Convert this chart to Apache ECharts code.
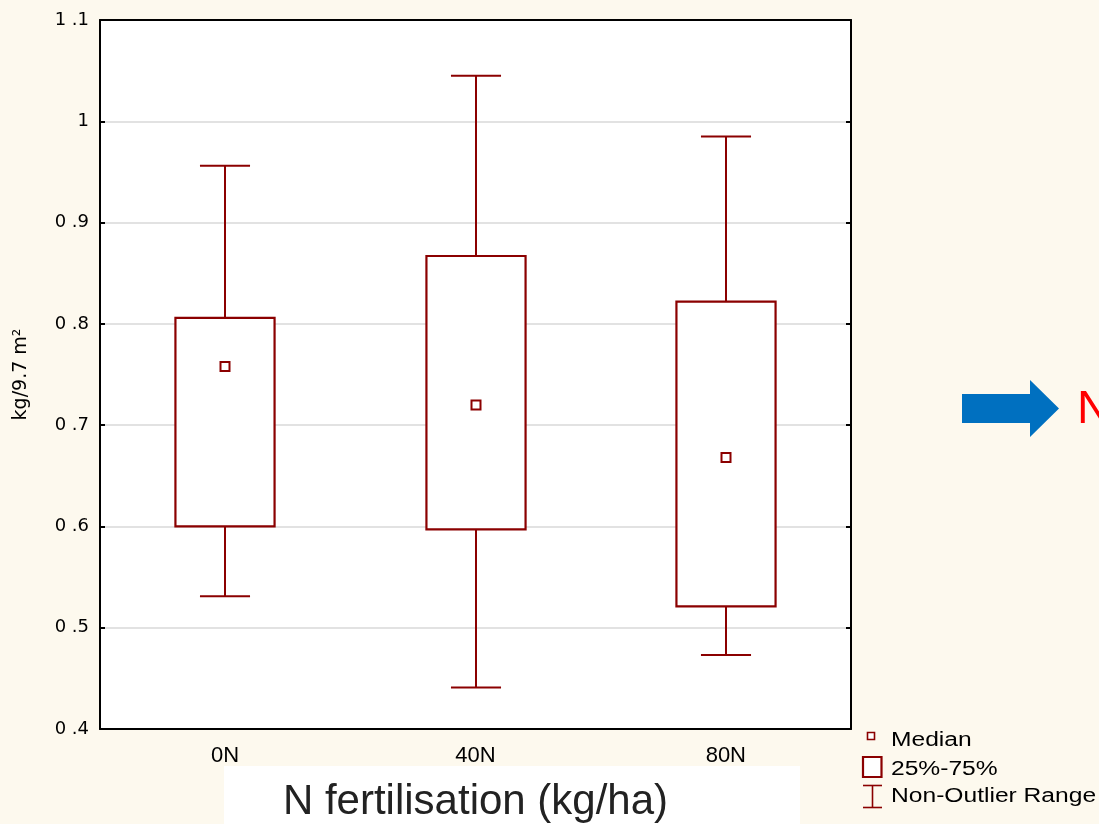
<!DOCTYPE html>
<html>
<head>
<meta charset="utf-8">
<script src="https://cdn.jsdelivr.net/npm/echarts@6/dist/echarts.min.js"></script>
<style>
html,body{margin:0;padding:0;background:#fdf9ee;overflow:hidden;}
#chart{width:1099px;height:824px;}
</style>
</head>
<body>
<div id="chart"></div>
<script>
// ---- data ----
const categories = ['0N', '40N', '80N'];
const whiskerLow  = [0.531, 0.441, 0.473];
const q1          = [0.600, 0.597, 0.521];
const median      = [0.758, 0.720, 0.668];
const q3          = [0.806, 0.867, 0.822];
const whiskerHigh = [0.956, 1.045, 0.985];
const yTicks = { min: 0.4, max: 1.1, interval: 0.1 };
const xTitle = 'N fertilisation (kg/ha)';
const yTitle = 'kg/9.7 m²';
const legendLabels = ['Median', '25%-75%', 'Non-Outlier Range'];

const boxData = categories.map((c, i) => [i, whiskerLow[i], q1[i], median[i], q3[i], whiskerHigh[i]]);

const RED = '#8b0000';
const FONT = '"Liberation Sans", Arial, sans-serif';

function fmtY(v) {
  const s = (Math.round(v * 10) / 10).toFixed(1);
  if (s.endsWith('.0')) return s.slice(0, -2);
  return s.replace('.', ' .');
}

function renderItem(params, api) {
  const x = api.value(0);
  const lo = api.coord([x, api.value(1)]);
  const b1 = api.coord([x, api.value(2)]);
  const md = api.coord([x, api.value(3)]);
  const b3 = api.coord([x, api.value(4)]);
  const hi = api.coord([x, api.value(5)]);
  const band = api.size([1, 0])[0];
  const bw = band * 0.396, cw = band * 0.2;
  const cx = Math.round(lo[0]);
  const ls = { stroke: RED, lineWidth: 2, fill: null };
  return {
    type: 'group',
    children: [
      { type: 'line', shape: { x1: cx, y1: hi[1], x2: cx, y2: b3[1] }, style: ls },
      { type: 'line', shape: { x1: cx, y1: b1[1], x2: cx, y2: lo[1] }, style: ls },
      { type: 'line', shape: { x1: cx - cw / 2, y1: hi[1], x2: cx + cw / 2, y2: hi[1] }, style: ls },
      { type: 'line', shape: { x1: cx - cw / 2, y1: lo[1], x2: cx + cw / 2, y2: lo[1] }, style: ls },
      { type: 'rect', shape: { x: cx - bw / 2, y: b3[1], width: bw, height: b1[1] - b3[1] },
        style: { stroke: RED, lineWidth: 2.2, fill: '#ffffff' } },
      { type: 'rect', shape: { x: cx - 4.5, y: md[1] - 4.5, width: 9, height: 9 },
        style: { stroke: RED, lineWidth: 2, fill: '#ffffff' } }
    ]
  };
}

const chart = echarts.init(document.getElementById('chart'), null, { renderer: 'canvas', width: 1099, height: 824 });
const axisLineStyle = { color: '#000', width: 2 };
chart.setOption({
  backgroundColor: '#fdf9ee',
  animation: false,
  grid: { left: 100, top: 20, width: 751, height: 709, show: true, backgroundColor: '#ffffff', borderWidth: 0,
          containLabel: false, outerBoundsMode: 'none' },
  xAxis: [
    {
      type: 'category', data: categories, position: 'bottom', boundaryGap: true,
      axisLine: { lineStyle: axisLineStyle },
      axisTick: { inside: true, alignWithLabel: true, length: 6, lineStyle: axisLineStyle },
      axisLabel: { color: '#000', fontFamily: FONT, fontSize: 22, margin: 16 },
      splitLine: { show: false },
      name: xTitle, nameLocation: 'middle', nameGap: 52,
      nameTextStyle: { color: '#222', fontFamily: FONT, fontSize: 42 }
    },
    {
      type: 'category', data: categories, position: 'top', boundaryGap: true,
      axisLine: { lineStyle: axisLineStyle },
      axisTick: { inside: true, alignWithLabel: true, length: 6, lineStyle: axisLineStyle },
      axisLabel: { show: false }, splitLine: { show: false }
    }
  ],
  yAxis: [
    {
      type: 'value', min: yTicks.min, max: yTicks.max, interval: yTicks.interval, position: 'left',
      axisLine: { show: true, lineStyle: axisLineStyle },
      axisTick: { show: true, inside: true, length: 5, lineStyle: axisLineStyle },
      axisLabel: { color: '#000', fontFamily: '"DejaVu Sans", sans-serif', fontSize: 18, margin: 11, formatter: fmtY },
      splitLine: { show: true, lineStyle: { color: '#d9d9d9', width: 1.5 } },
      name: yTitle, nameLocation: 'middle', nameGap: 69,
      nameTextStyle: { color: '#000', fontFamily: '"DejaVu Sans", sans-serif', fontSize: 19 }
    },
    {
      type: 'value', min: yTicks.min, max: yTicks.max, interval: yTicks.interval, position: 'right',
      axisLine: { show: true, lineStyle: axisLineStyle },
      axisTick: { show: true, inside: true, length: 5, lineStyle: axisLineStyle },
      axisLabel: { show: false }, splitLine: { show: false }
    }
  ],
  series: [{
    type: 'custom', renderItem: renderItem, data: boxData,
    encode: { x: 0, y: [1, 2, 3, 4, 5] }, z: 5
  }],
  graphic: [
    { type: 'rect', z: -1, shape: { x: 224, y: 766, width: 576, height: 58 }, style: { fill: '#ffffff' } },
    // arrow and cut-off red text on the right
    { type: 'polygon', shape: { points: [[962,394],[1030,394],[1030,380],[1059,408.5],[1030,437],[1030,423],[962,423]] },
      style: { fill: '#0070c0' } },
    { type: 'text', x: 1077, y: 410, style: { text: 'N', fill: '#ff0000', font: '47px ' + FONT, textVerticalAlign: 'middle' } },
    // legend
    { type: 'rect', shape: { x: 867.5, y: 732.5, width: 7, height: 7 }, style: { stroke: RED, lineWidth: 1.6, fill: '#fff' } },
    { type: 'rect', shape: { x: 863, y: 757, width: 18.5, height: 20 }, style: { stroke: RED, lineWidth: 2.2, fill: '#fff' } },
    { type: 'line', shape: { x1: 872.5, y1: 785, x2: 872.5, y2: 808 }, style: { stroke: RED, lineWidth: 1.6 } },
    { type: 'line', shape: { x1: 863, y1: 785.5, x2: 882, y2: 785.5 }, style: { stroke: RED, lineWidth: 1.6 } },
    { type: 'line', shape: { x1: 863, y1: 807.5, x2: 882, y2: 807.5 }, style: { stroke: RED, lineWidth: 1.6 } },
    { type: 'text', x: 891, y: 740, scaleX: 1.23, style: { text: legendLabels[0], fill: '#000', font: '20px ' + FONT, textVerticalAlign: 'middle' } },
    { type: 'text', x: 891, y: 769.5, scaleX: 1.23, style: { text: legendLabels[1], fill: '#000', font: '20px ' + FONT, textVerticalAlign: 'middle' } },
    { type: 'text', x: 891, y: 796.5, scaleX: 1.23, style: { text: legendLabels[2], fill: '#000', font: '20px ' + FONT, textVerticalAlign: 'middle' } }
  ]
});
</script>
</body>
</html>
